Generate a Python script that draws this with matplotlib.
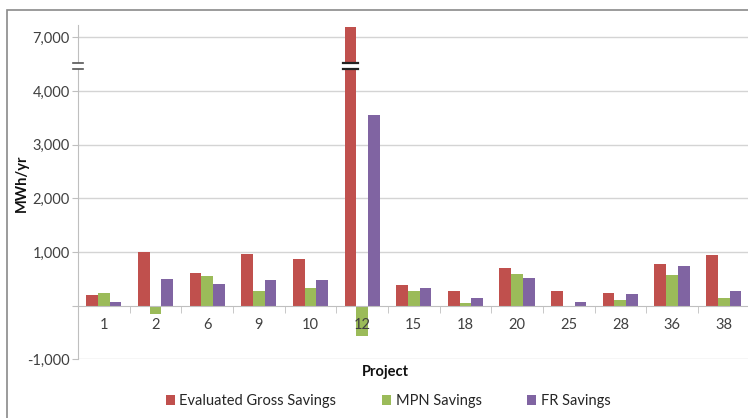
import numpy as np
import matplotlib
matplotlib.use('Agg')
import matplotlib.pyplot as plt
from matplotlib.patches import Patch, Rectangle

plt.rcParams['font.family'] = ['Lato', 'DejaVu Sans']

# ---- data (MWh/yr) ----
projects = ['1', '2', '6', '9', '10', '12', '15', '18', '20', '25', '28', '36', '38']
gross = [193, 1000, 600, 955, 865, 7200, 380, 268, 697, 268, 243, 780, 950]
mpn = [236, -150, 555, 275, 320, -560, 275, 43, 598, 0, 99, 575, 140]
fr = [67, 505, 400, 475, 470, 3560, 335, 137, 523, 75, 211, 740, 265]

series_names = ['Evaluated Gross Savings', 'MPN Savings', 'FR Savings']
colors = ['#C0504D', '#9BBB59', '#8064A2']

# broken axis: values above the break are drawn 2000 lower
BREAK_AT = 4500
SHIFT = 2000
tick_vals = [-1000, 0, 1000, 2000, 3000, 4000, 7000]
tick_text = ['-1,000', '', '1,000', '2,000', '3,000', '4,000', '7,000']


def squash(v):
    return v if v <= BREAK_AT else v - SHIFT


W, H = 748, 418
fig = plt.figure(figsize=(W / 100, H / 100), dpi=100)

# chart border (cropped on right / bottom)
fig.patches.append(Rectangle((7 / W, -0.1), 1.2, 1.1 - 10 / H, transform=fig.transFigure,
                             fill=False, edgecolor='#8a8a8a', linewidth=1.2))

ax = fig.add_axes([78 / W, 0.1404, 1.0 - 78 / W + 0.002, 0.7998])
ax.set_axisbelow(False)

# gridlines behind the bars, axis labels in front
for t in tick_vals:
    if t != 0:
        ax.axhline(squash(t), color='#d4d4d4', linewidth=1.0, zorder=0)

x = np.arange(len(projects))
bw = 0.227
for i, (vals, c) in enumerate(zip([gross, mpn, fr], colors)):
    ax.bar(x + (i - 1) * bw, [squash(v) for v in vals], bw, color=c, zorder=1)

ax.set_xlim(-0.5, len(projects) - 0.5)
ax.set_ylim(-1000, 5230)

ax.set_yticks([squash(t) for t in tick_vals])
ax.set_yticklabels(tick_text)
ax.tick_params(axis='y', length=4, color='#bfbfbf', labelsize=10.5, labelcolor='#404040', pad=2)

ax.spines['bottom'].set_position(('data', 0))
ax.spines['bottom'].set_color('#bfbfbf')
ax.spines['left'].set_color('#bfbfbf')
ax.spines['top'].set_visible(False)
ax.spines['right'].set_visible(False)

ax.set_xticks(x)
ax.set_xticklabels(projects)
ax.set_xticks(np.arange(len(projects) + 1) - 0.5, minor=True)
ax.tick_params(axis='x', which='major', length=0, pad=9, labelsize=10.5, labelcolor='#404040')
ax.tick_params(axis='x', which='minor', length=5, color='#bfbfbf', direction='out')

# break marks on the axis and on the tall bar
lo, hi = 4410, 4530
ax.add_patch(Rectangle((-0.6, lo), 0.2, hi - lo, facecolor='white', edgecolor='none',
                       zorder=5, clip_on=False))
ax.plot([-0.6, -0.4], [lo, lo], color='#555555', lw=1.2, zorder=6, clip_on=False)
ax.plot([-0.6, -0.4], [hi, hi], color='#555555', lw=1.2, zorder=6, clip_on=False)
k = projects.index('12')
bx0 = k - bw - bw / 2 - 0.03
ax.add_patch(Rectangle((bx0, lo), bw + 0.06, hi - lo, facecolor='white', edgecolor='none', zorder=5))
ax.plot([bx0, bx0 + bw + 0.06], [lo, lo], color='#222222', lw=1.6, zorder=6)
ax.plot([bx0, bx0 + bw + 0.06], [hi, hi], color='#222222', lw=1.6, zorder=6)

fig.text(22 / W, 1 - 183 / H, 'MWh/yr', rotation=90, ha='center', va='center',
         fontsize=10.5, fontweight='bold', color='#111111')
fig.text(385 / W, 1 - 372 / H, 'Project', ha='center', va='center',
         fontsize=10.5, fontweight='bold', color='#111111')

handles = [Patch(facecolor=c, edgecolor='none') for c in colors]
fig.legend(handles, series_names, loc='center', bbox_to_anchor=(388 / W, 1 - 401 / H),
           ncol=3, frameon=False, fontsize=10.5, handlelength=0.65, handleheight=0.65,
           handletextpad=0.3, columnspacing=3.1, labelcolor='#262626')

fig.savefig('out.png', dpi=100)
